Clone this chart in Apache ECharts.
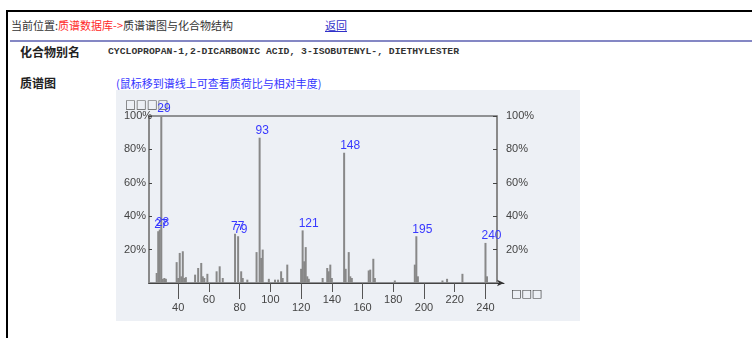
<!DOCTYPE html>
<html>
<head>
<meta charset="utf-8">
<title>质谱谱图与化合物结构</title>
<script src="https://cdn.jsdelivr.net/npm/echarts@6/dist/echarts.min.js"></script>
<style>
  html, body { margin: 0; padding: 0; background: #fff; width: 752px; height: 338px; overflow: hidden; }
  .abs { position: absolute; white-space: nowrap; }
  .frame { position: absolute; left: 6px; top: 10px; width: 760px; height: 340px;
           border-top: 2px solid #000; border-left: 2px solid #000; }
  .cjk { font-family: "Noto Sans CJK SC", "DejaVu Sans", sans-serif; font-size: 11px; line-height: 13px; color: #333; }
  .red { color: #ff2a2a; }
  .link { color: #3030c8; text-decoration: underline; }
  .rule { position: absolute; left: 10px; top: 40px; width: 742px; height: 2px; background: #8487c4; }
  .field { font-family: "Noto Sans CJK SC", sans-serif; font-size: 12px; line-height: 14px; font-weight: bold; color: #222; }
  .mono { font-family: "Liberation Mono", "DejaVu Sans Mono", monospace; font-size: 9.75px; line-height: 12px; font-weight: bold; color: #333; }
  .hint { color: #3333ff; }
  #chart { position: absolute; left: 116px; top: 90px; width: 464px; height: 231px; background: #edf0f5; }
</style>
</head>
<body>
<div class="frame"></div>
<div class="abs cjk" style="left:11px; top:19px;">当前位置:<span class="red">质谱数据库-&gt;</span>质谱谱图与化合物结构</div>
<div class="abs cjk link" style="left:325px; top:19px;">返回</div>
<div class="rule"></div>
<div class="abs field" style="left:20px; top:45px;">化合物别名</div>
<div class="abs mono" style="left:108px; top:46px;">CYCLOPROPAN-1,2-DICARBONIC ACID, 3-ISOBUTENYL-, DIETHYLESTER</div>
<div class="abs field" style="left:20px; top:76px;">质谱图</div>
<div class="abs cjk hint" style="left:116px; top:77px;">(鼠标移到谱线上可查看质荷比与相对丰度)</div>
<div id="chart"></div>
<script>
// Mass spectrum: m/z values and relative abundance (%)
const mz = [26, 27, 28, 29, 30, 31, 32, 39, 40, 41, 42, 43, 44, 45,
            51, 53, 55, 56, 57, 59, 65, 67, 69, 77, 79, 81, 82, 85,
            91, 93, 94, 95, 99, 103, 105, 107, 108, 111,
            120, 121, 122, 123, 124, 125, 134, 137, 138, 139, 140,
            148, 149, 151, 152, 153, 164, 165, 167, 168, 181,
            194, 195, 196, 212, 215, 225, 240, 241];
const abundance = [6, 31, 32, 100, 2.5, 3, 2.5, 12.5, 3, 18, 4, 19, 3, 3.5,
                   5, 9, 12, 4, 3, 5.5, 7, 10, 3, 29.5, 28, 7, 3, 2,
                   18.5, 87, 15, 20, 2.5, 2, 2, 7, 3, 11,
                   8.5, 31.5, 13, 21.5, 4, 2.5, 3, 9, 7, 11, 3,
                   78, 8.5, 18.5, 4, 3, 7.5, 8, 14.5, 3, 1.5,
                   11, 28, 4, 1.5, 2.5, 5.5, 24, 4];
// Peaks that carry an m/z label
const labeledPeaks = [27, 28, 29, 77, 79, 93, 121, 148, 195, 240];
// X tick values: long ticks with low labels, short ticks with high labels
const xLongTicks = [40, 80, 120, 160, 200, 240];
const xShortTicks = [60, 100, 140, 180, 220];
// Axis titles (rendered with the missing-glyph boxes)
const yAxisTitle = '□□□□';
const xAxisTitle = '□□□';

const chart = echarts.init(document.getElementById('chart'), null, { renderer: 'canvas' });

const axisFont = { fontFamily: 'Liberation Sans, Arial, sans-serif', fontSize: 11, color: '#444' };
const xMin = 21, xMax = 247.5;

chart.setOption({
  animation: false,
  backgroundColor: '#edf0f5',
  grid: [
    { left: 33, top: 26, right: 83, bottom: 38, show: true, borderColor: '#333', borderWidth: 1, backgroundColor: 'transparent' },
    { left: 33, top: 26, right: 76, bottom: 38 }
  ],
  xAxis: [
    {
      // plain axis line ending in a small arrow, slightly past the plot box
      type: 'value', gridIndex: 1, min: 0, max: 1, position: 'bottom',
      axisLine: { show: true, onZero: false, symbol: ['none', 'arrow'], symbolSize: [5, 7], lineStyle: { color: '#333', width: 1 } },
      axisTick: { show: false }, axisLabel: { show: false }, splitLine: { show: false }
    },
    {
      type: 'value', gridIndex: 0, min: xMin, max: xMax, position: 'bottom',
      axisLine: { show: true, onZero: false, lineStyle: { color: '#444', width: 1 } },
      axisTick: { show: true, customValues: xLongTicks, length: 16, lineStyle: { color: '#555', width: 1 } },
      axisLabel: Object.assign({ customValues: xLongTicks, margin: 19 }, axisFont),
      splitLine: { show: false }
    },
    {
      type: 'value', gridIndex: 0, min: xMin, max: xMax, position: 'bottom',
      axisLine: { show: false, onZero: false },
      axisTick: { show: true, customValues: xShortTicks, length: 9, lineStyle: { color: '#555', width: 1 } },
      axisLabel: Object.assign({ customValues: xShortTicks, margin: 11 }, axisFont),
      splitLine: { show: false }
    }
  ],
  yAxis: [
    { type: 'value', gridIndex: 1, min: 0, max: 1, show: false },
    {
      type: 'value', gridIndex: 0, min: 0, max: 100, interval: 20, position: 'left',
      axisLine: { show: true, lineStyle: { color: '#8a8a8a', width: 2 } },
      axisTick: { show: true, inside: true, length: 3, lineStyle: { color: '#444' } },
      axisLabel: Object.assign({ formatter: '{value}%', align: 'left', margin: 25, showMinLabel: false }, axisFont),
      splitLine: { show: false }
    },
    {
      type: 'value', gridIndex: 0, min: 0, max: 100, interval: 20, position: 'right',
      axisLine: { show: true, lineStyle: { color: '#8a8a8a', width: 2 } },
      axisTick: { show: true, inside: true, length: 4, lineStyle: { color: '#444' } },
      axisLabel: Object.assign({ formatter: '{value}%', align: 'left', margin: 9, showMinLabel: false }, axisFont),
      splitLine: { show: false }
    }
  ],
  graphic: [
    { type: 'text', left: 9, top: 9, style: { text: yAxisTitle, fontSize: 11.5, fontFamily: 'DejaVu Sans', fill: '#555' } },
    { type: 'text', left: 395, top: 199, style: { text: xAxisTitle, fontSize: 11, fontFamily: 'DejaVu Sans', fill: '#333' } }
  ],
  series: [{
    type: 'bar',
    xAxisIndex: 1, yAxisIndex: 1,
    barWidth: 2,
    itemStyle: { color: '#888' },
    label: {
      show: false, position: 'top', distance: 1, align: 'left', offset: [-4, 0],
      fontFamily: 'Liberation Sans, Arial, sans-serif', fontSize: 12, color: '#3838ff',
      formatter: p => String(p.value[0])
    },
    data: mz.map((m, i) => ({
      value: [m, abundance[i]],
      label: { show: labeledPeaks.includes(m) }
    }))
  }]
});
</script>
</body>
</html>
